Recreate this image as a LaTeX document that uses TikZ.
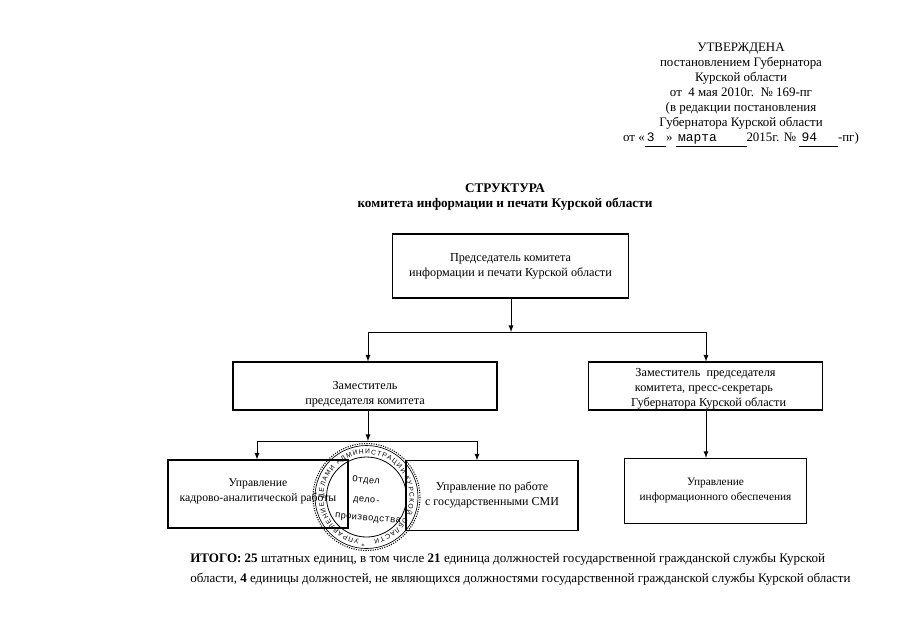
\documentclass[tikz,border=0pt]{standalone}
\usepackage{fontspec}
\setmainfont{Liberation Serif}
\newfontfamily\stampfont{Liberation Mono}
\newfontfamily\ringfont{Liberation Sans}
\usetikzlibrary{decorations.text}

\newcommand{\fillin}[2]{\underline{\makebox[#1][l]{\rule[-2pt]{0pt}{0pt}\stampfont\,#2}}}

\tikzset{
  boxnode/.style={draw,line width=0.8pt,align=center,inner sep=0pt,fill=white,font=\fontsize{#1}{11.2}\selectfont},
  textnode/.style={align=center,inner sep=0.75pt},
  linknode/.style={line width=0.7pt},
  arrownode/.style={line width=0.7pt,-latex},
  handnode/.style={inner sep=0pt,font=\stampfont\fontsize{6.9}{8}\selectfont,rotate=-5},
}

\begin{document}
\begin{tikzpicture}[x=0.75pt,y=0.75pt,yscale=-1,xscale=1,font=\fontsize{9.7}{11.25}\selectfont]
\path[use as bounding box,fill=white] (0,0) rectangle (905,640);

% Text Node
\node (approved) [textnode] at (741,95) {УТВЕРЖДЕНА\\постановлением Губернатора\\Курской области\\от~~4 мая 2010г.~~№ 169-пг\\(в редакции постановления\\Губернатора Курской области\\от «\fillin{16pt}{3}» \fillin{53pt}{марта}2015г. № \fillin{29pt}{94}-пг)};
% Text Node
\node (title) [textnode,font=\fontsize{9.9}{11.25}\selectfont\bfseries] at (505,197) {СТРУКТУРА\\комитета информации и печати Курской области};

% Boxes
\node (head) [boxnode=9.15,minimum width=177pt,minimum height=48pt] at (510.5,266) {Председатель комитета\\информации и печати Курской области};
\node (depleft) [boxnode=9.2,minimum width=198pt,minimum height=36pt] at (365,386) {\rule{0pt}{19pt}Заместитель\\председателя комитета};
\node (depright) [boxnode=9.2,minimum width=175pt,minimum height=36pt] at (705.5,386) {\rule{0pt}{10pt}Заместитель~~председателя~\\комитета, пресс-секретарь~~\\~~Губернатора Курской области};
\node (deptleft) [boxnode=8.8,minimum width=135pt,minimum height=51pt] at (258,494) {Управление\\кадрово-аналитической работы\rule[-6pt]{0pt}{0pt}};
\node (deptmid) [boxnode=9,minimum width=129pt,minimum height=52pt] at (492,495.5) {Управление по работе\\с государственными СМИ\rule[-3pt]{0pt}{0pt}};
\node (deptright) [boxnode=8.5,minimum width=136pt,minimum height=49pt] at (715.5,491) {Управление\\информационного обеспечения\rule[-2pt]{0pt}{0pt}};

% Junctions
\coordinate (forkA) at (511,332);
\coordinate (forkAl) at (368,332);
\coordinate (forkAr) at (706,332);
\coordinate (forkB) at (368,441);
\coordinate (forkBl) at (257,441);
\coordinate (forkBr) at (477,441);

% Connectors
\draw [arrownode] (head.south -| forkA) -- (forkA);
\draw [linknode] (forkAl) -- (forkAr);
\draw [arrownode] (forkAl) -- (depleft.north -| forkAl);
\draw [arrownode] (forkAr) -- (depright.north -| forkAr);
\draw [arrownode] (depleft.south -| forkB) -- (forkB);
\draw [linknode] (forkBl) -- (forkBr);
\draw [arrownode] (forkBl) -- (deptleft.north -| forkBl);
\draw [arrownode] (forkBr) -- (deptmid.north -| forkBr);
\draw [arrownode] (depright.south -| forkAr) -- (deptright.north -| forkAr);

% Stamp
\coordinate (stamp) at (366.5,497);
\draw [line width=0.8pt,densely dotted] (stamp) circle (53.5);
\draw [line width=0.5pt] (stamp) circle (51.5);
\draw [line width=0.6pt] (stamp) circle (40);
\path [decorate,decoration={text along path,text format delimiters={|}{|},text align={fit to path},
  text={|\ringfont\fontsize{5}{5}\selectfont|УПРАВЛЕНИЕ ДЕЛАМИ АДМИНИСТРАЦИИ КУРСКОЙ ОБЛАСТИ}}]
  (stamp) ++(100:43) arc (100:440:43);
\node (stampstar) [inner sep=0pt,font=\fontsize{5}{5}\selectfont] at (363,546) {*};
\node (stampA) [handnode] at (366,481) {Отдел};
\node (stampB) [handnode] at (367,501) {дело-};
\node (stampC) [handnode] at (368,519) {производства};

% Text Node
\node (total) [textnode,align=left,anchor=north west,font=\fontsize{9.77}{14.7}\selectfont] at (189,552) {\textbf{ИТОГО: 25} штатных единиц, в том числе \textbf{21} единица должностей государственной гражданской службы Курской\\области, \textbf{4} единицы должностей, не являющихся должностями государственной гражданской службы Курской области};

\end{tikzpicture}
\end{document}
